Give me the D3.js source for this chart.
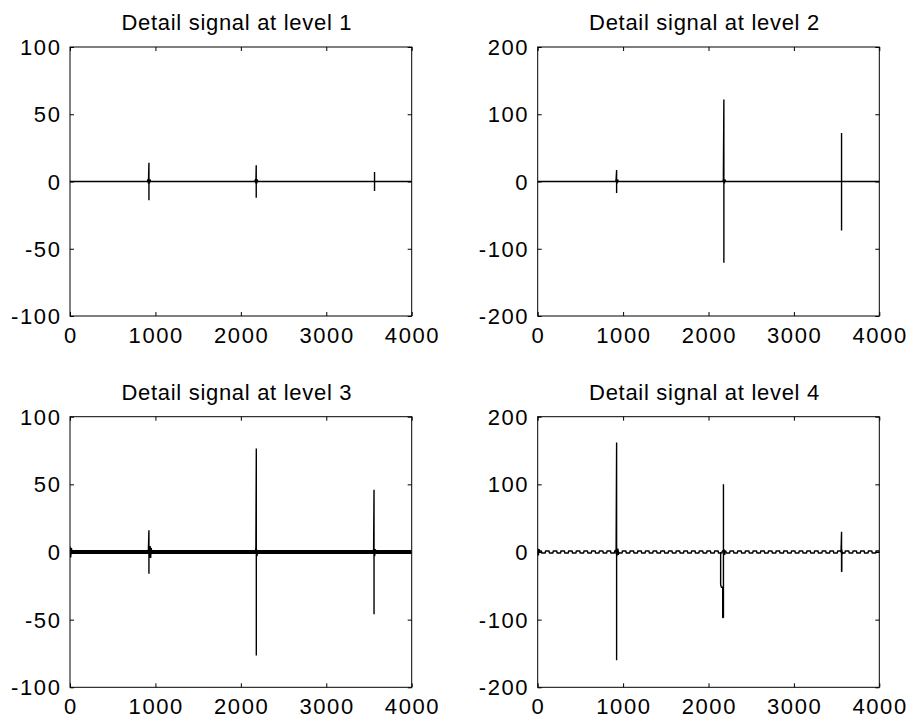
<!DOCTYPE html>
<html>
<head>
<meta charset="utf-8">
<script src="https://cdn.jsdelivr.net/npm/d3@7"></script>
<style>
  html, body { margin: 0; padding: 0; background: #fff; }
  svg { display: block; }
  text { font-family: "Liberation Sans", Arial, Helvetica, sans-serif; fill: #000; }
</style>
</head>
<body>
<svg id="chart" width="911" height="723"></svg>
<script>
// ---------------- DATA ----------------
const titles = ["Detail signal at level 1", "Detail signal at level 2",
                "Detail signal at level 3", "Detail signal at level 4"];
const xDomain = [0, 4000];
const xTicks = [0, 1000, 2000, 3000, 4000];
const yTicksSmall = [-100, -50, 0, 50, 100];
const yTicksLarge = [-200, -100, 0, 100, 200];

// Level 1 samples (null = gap)
const level1X = [0, 905, 912, 918, 924, 924, 924, 930, 936, 945, 2165, 2170, 2176, 2180, 2180, 2180, 2186, 2192, 2200, 3565, 3565, 3565, 3565, 4000];
const level1Y = [0, 0, 1.5, -1.5, 14, -14, 1.5, -1.5, 1.5, 0, 0, 1.5, -1.5, 12, -12, 1.5, -1.5, 1.5, 0, 0, 7, -7, 0, 0];

// Level 2 samples
const level2X = [0, 912, 918, 924, 924, 924, 930, 936, 942, 2168, 2174, 2180, 2180, 2180, 2186, 2192, 2200, 3558, 3558, 3558, 3558, 4000];
const level2Y = [0, 0, 3, 17, -17, 3, -3, 3, 0, 0, 3, 122, -121, 3, -3, 3, 0, 0, 72, -73, 0, 0];

// Level 3: thick baseline + spikes
const level3BaseX = [0, 4000];
const level3BaseY = [0, 0];
const level3X = [0, 8, 16, 24, null, 910, 918, 924, 924, 924, 932, 938, 944, 950, 958, null, 2170, 2176, 2181, 2181, 2181, 2188, 2196, null, 3548, 3554, 3559, 3559, 3559, 3566, 3574, 3582];
const level3Y = [4, -4, 3, 0, null, 0, 2, 16, -16, 4.5, -4.5, 4.5, -4.5, 3, 0, null, 0, 3, 76.5, -76.5, 3, -3, 0, null, 0, 2, 46, -46, 3, -3, 2, 0];

// Level 4: ripple baseline + spikes
const level4RippleStep = 45;
const level4Ripple = [
  1.5,-1.5,1.5,-1.5,1.5,-1.5,1.5,-1.5,1.5,-1.5,1.5,-1.5,1.5,-1.5,1.5,-1.5,1.5,-1.5,1.5,-1.5,
  1.5,-1.5,1.5,-1.5,1.5,-1.5,1.5,-1.5,1.5,-1.5,1.5,-1.5,1.5,-1.5,1.5,-1.5,1.5,-1.5,1.5,-1.5,
  1.5,-1.5,1.5,-1.5,1.5,-1.5,1.5,-1.5,1.5,-1.5,1.5,-1.5,1.5,-1.5,1.5,-1.5,1.5,-1.5,1.5,-1.5,
  1.5,-1.5,1.5,-1.5,1.5,-1.5,1.5,-1.5,1.5,-1.5,1.5,-1.5,1.5,-1.5,1.5,-1.5,1.5,-1.5,1.5,-1.5,
  1.5,-1.5,1.5,-1.5,1.5,-1.5,1.5,-1.5,1.5,-1.5
];
const level4X = [0, 8, 16, 24, null, 905, 912, 918, 924, 924, 924, 932, 938, 944, 952, null, 2142, 2142, 2150, 2166, 2166, 2175, 2175, 2175, 2182, 2188, 2196, null, 3546, 3552, 3558, 3558, 3561, 3561, 3561, 3568, 3576];
const level4Y = [5, -5, 4, 0, null, 0, 3, -3, 162, -160, 5, -5, 5, -4, 0, null, 0, -48, -52, -52, -97, -97, 100, 0, 4, -4, 0, null, 0, 2, 30, -29, -29, -12, 3, -3, 0];

// ---------------- LAYOUT ----------------
const svg = d3.select("#chart");
const panels = [
  { x0: 70,    x1: 411.7, y0: 47,    y1: 316,   yTicks: yTicksSmall },
  { x0: 537.7, x1: 879.3, y0: 47,    y1: 316,   yTicks: yTicksLarge },
  { x0: 70,    x1: 411.7, y0: 416.7, y1: 687.3, yTicks: yTicksSmall },
  { x0: 537.7, x1: 879.3, y0: 416.7, y1: 687.3, yTicks: yTicksLarge }
];

const series = [
  [{ x: level1X, y: level1Y, w: 1.4 }],
  [{ x: level2X, y: level2Y, w: 1.4 }],
  [{ x: level3BaseX, y: level3BaseY, w: 4 }, { x: level3X, y: level3Y, w: 1.4 }],
  [{ x: level4Ripple.map((_, i) => i * level4RippleStep), y: level4Ripple, w: 1.3, step: true, last: 4000 },
   { x: level4X, y: level4Y, w: 1.4 }]
];

panels.forEach((p, i) => {
  const x = d3.scaleLinear().domain(xDomain).range([p.x0, p.x1]);
  const yd = d3.extent(p.yTicks);
  const y = d3.scaleLinear().domain(yd).range([p.y1, p.y0]);
  const g = svg.append("g");

  const clipId = "clip" + i;
  svg.append("clipPath").attr("id", clipId)
    .append("rect").attr("x", p.x0).attr("y", p.y0)
    .attr("width", p.x1 - p.x0).attr("height", p.y1 - p.y0);

  // data
  const dg = g.append("g").attr("clip-path", `url(#${clipId})`);
  series[i].forEach(s => {
    let pts = s.x.map((xv, k) => [xv, s.y[k]]);
    if (s.last !== undefined) pts.push([s.last, s.y[s.y.length - 1]]);
    const line = d3.line()
      .defined(d => d[0] !== null && d[1] !== null)
      .x(d => x(d[0])).y(d => y(d[1]));
    if (s.step) line.curve(d3.curveStepAfter);
    dg.append("path").attr("d", line(pts))
      .attr("fill", "none").attr("stroke", "#000")
      .attr("stroke-width", s.w).attr("stroke-linejoin", "bevel");
  });

  // box
  g.append("rect").attr("x", p.x0).attr("y", p.y0)
    .attr("width", p.x1 - p.x0).attr("height", p.y1 - p.y0)
    .attr("fill", "none").attr("stroke", "#000").attr("stroke-width", 1);

  const tl = 4;
  const xAxB = d3.axisBottom(x).tickValues(xTicks).tickSize(-tl).tickFormat("");
  g.append("g").attr("transform", `translate(0,${p.y1})`).call(xAxB)
    .call(a => a.select(".domain").remove());
  const xAxT = d3.axisTop(x).tickValues(xTicks).tickSize(-tl).tickFormat("");
  g.append("g").attr("transform", `translate(0,${p.y0})`).call(xAxT)
    .call(a => a.select(".domain").remove());
  const yAxL = d3.axisLeft(y).tickValues(p.yTicks).tickSize(-tl).tickFormat("");
  g.append("g").attr("transform", `translate(${p.x0},0)`).call(yAxL)
    .call(a => a.select(".domain").remove());
  const yAxR = d3.axisRight(y).tickValues(p.yTicks).tickSize(-tl).tickFormat("");
  g.append("g").attr("transform", `translate(${p.x1},0)`).call(yAxR)
    .call(a => a.select(".domain").remove());
  g.selectAll(".tick line").attr("stroke", "#000").attr("stroke-width", 1);

  // tick labels
  g.selectAll(".xl").data(xTicks).enter().append("text")
    .attr("x", d => x(d) + 0.8).attr("y", p.y1 + 27)
    .attr("text-anchor", "middle")
    .style("font-size", "22px").style("letter-spacing", "1.6px")
    .text(d => d);
  g.selectAll(".yl").data(p.yTicks).enter().append("text")
    .attr("x", p.x0 - 8.5).attr("y", d => y(d) + 8)
    .attr("text-anchor", "end")
    .style("font-size", "22px").style("letter-spacing", "1.6px")
    .text(d => d);

  // title
  g.append("text").attr("x", (p.x0 + p.x1) / 2 - 4).attr("y", p.y0 - 17)
    .attr("text-anchor", "middle")
    .style("font-size", "22px").style("letter-spacing", "0.7px")
    .text(titles[i]);
});
</script>
</body>
</html>
